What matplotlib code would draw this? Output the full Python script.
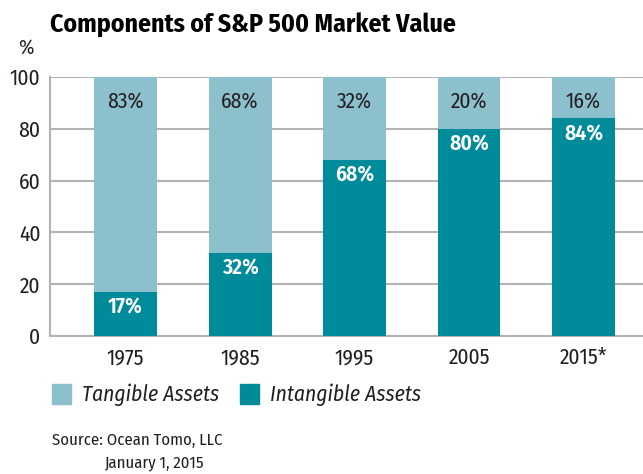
import matplotlib
matplotlib.use("Agg")
from matplotlib import pyplot as plt
from matplotlib.patches import Patch

years = ["1975", "1985", "1995", "2005", "2015*"]
intangible = [17, 32, 68, 80, 84]
tangible = [83, 68, 32, 20, 16]

c_tan = "#8cc0cd"
c_int = "#008b9b"
ink = "#231f20"
fam = ["Fira Sans Condensed", "DejaVu Sans"]
plt.rcParams["font.family"] = fam

fig = plt.figure(figsize=(6.43, 4.74), dpi=100)
ax = fig.add_axes([50 / 643, 1 - 336 / 474, 1 - 50 / 643, (336 - 77) / 474])

x = range(len(years))
w = 0.55
ax.bar(x, intangible, w, color=c_int, zorder=3)
ax.bar(x, tangible, w, bottom=intangible, color=c_tan, zorder=3)

for i in x:
    ax.text(i, 90.5, f"{tangible[i]}%", ha="center", va="center",
            fontsize=15.5, color=ink, zorder=4)
    ax.text(i, intangible[i] - 6, f"{intangible[i]}%", ha="center", va="center",
            fontsize=15.5, color="white", fontweight="semibold", zorder=4)

ax.set_xlim(-0.66, 4.52)
ax.set_ylim(0, 100)
ax.set_yticks(range(0, 101, 20))
ax.set_xticks(list(x))
ax.set_xticklabels(years)
ax.tick_params(length=0, labelsize=15.5, colors=ink, pad=7)
ax.tick_params(axis="x", pad=8)
ax.yaxis.grid(True, color="#b3b3b3", linewidth=1.5, zorder=0)
for s in ["top", "right"]:
    ax.spines[s].set_visible(False)
for s in ["left", "bottom"]:
    ax.spines[s].set_color("#b3b3b3")
    ax.spines[s].set_linewidth(1.5)

fig.text(50 / 643, 1 - 26 / 474, "Components of S&P 500 Market Value",
         fontsize=18.5, fontweight="bold", color="black", va="center")
fig.text(26 / 643, 1 - 48 / 474, "%", fontsize=15, color=ink, ha="center", va="center")

handles = [Patch(color=c_tan), Patch(color=c_int)]
leg = fig.legend(handles, ["Tangible Assets", "Intangible Assets"],
                 loc="center left", bbox_to_anchor=(52 / 643, 1 - 395 / 474),
                 ncol=2, frameon=False, borderpad=0, borderaxespad=0,
                 handlelength=0.9, handleheight=1.0,
                 handletextpad=0.5, columnspacing=0.95,
                 prop={"size": 15.5, "style": "italic", "family": fam})
for t in leg.get_texts():
    t.set_color(ink)

fig.text(52 / 643, 1 - 440 / 474, "Source: Ocean Tomo, LLC", fontsize=12, color=ink, va="center")
fig.text(104 / 643, 1 - 463 / 474, "January 1, 2015", fontsize=12, color=ink, va="center")

fig.savefig("out.png", dpi=100)
